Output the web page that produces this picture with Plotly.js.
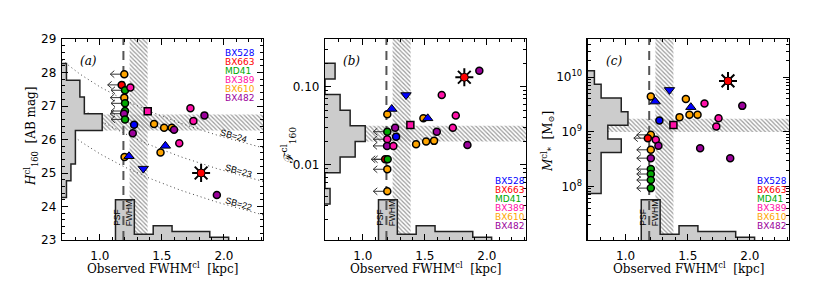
<!DOCTYPE html>
<html><head><meta charset="utf-8">
<script src="https://cdn.plot.ly/plotly-3.0.1.min.js"></script>
<style>html,body{margin:0;padding:0;background:#fff}</style>
</head><body><div id="chart" style="width:830px;height:293px"></div>
<script>
// ================= DATA =================
const galaxies = ['BX528', 'BX663', 'MD41', 'BX389', 'BX610', 'BX482'];

// observed FWHM histogram (bottom of every panel)
const fwhmBinEdges = [1.126, 1.278, 1.430, 1.582, 1.734, 1.886, 2.038];
const fwhmBinCounts = [14, 2, 5, 3, 3, 1];

const psfFWHM = 1.19;              // kpc
const fwhmBand = [1.24, 1.385];    // kpc

// ---- panel (a): H160 magnitude ----
const magBinEdges = [24.27, 24.77, 25.27, 25.77, 26.27, 26.77, 27.27, 27.77, 28.27];
const magBinCounts = [1, 2, 3, 3, 9, 5, 4, 1];
const magBand = [26.27, 26.75];
const sbLevels = ['24', '23', '22'];
const sbValues = [24, 23, 22];
const sbZeroPoint = 3.575;         // H160 of an SB contour at FWHM = 1 kpc, minus SB

const fwhmA = [1.197, 1.176, 1.203, 1.197, 1.203, 1.203, 1.195, 1.203,
  1.246, 1.386, 1.276, 1.265, 1.437, 1.518, 1.580, 1.598, 1.730, 1.754, 1.843,
  1.640, 1.528, 1.489, 1.199, 1.235, 1.350, 1.816, 1.943];
const magA = [27.95, 27.63, 27.47, 27.25, 27.08, 26.85, 26.77, 26.60,
  27.55, 26.84, 26.44, 26.19, 26.46, 26.35, 26.35, 26.29, 26.93, 26.55, 26.72,
  25.89, 25.81, 25.61, 25.48, 25.50, 25.13, 25.00, 24.34];
const galA = ['BX610', 'BX663', 'MD41', 'BX610', 'MD41', 'MD41', 'BX482', 'MD41',
  'BX389', 'BX389', 'BX528', 'BX482', 'BX610', 'BX610', 'BX610', 'BX482', 'BX389', 'BX389', 'BX482',
  'BX389', 'BX528', 'BX610', 'BX610', 'BX528', 'BX528', 'BX663', 'BX482'];
const kindA = ['o', 'o', 'o', 'o', 'o', 'o', 'o', 'o',
  'o', 's', 'o', 'o', 'o', 'o', 'o', 'o', 'o', 'o', 'o',
  'o', 'u', 'o', 'o', 'u', 'd', 'x', 'o'];
const limA = [1, 1, 1, 1, 1, 1, 1, 1,
  0, 0, 0, 0, 0, 0, 0, 0, 0, 0, 0,
  0, 0, 0, 0, 0, 0, 0, 0];

// ---- panel (b): F160 ----
const fluxLogBinEdges = [-2.5, -2.3, -2.1, -1.9, -1.7, -1.5, -1.3, -1.1, -0.9, -0.7];
const fluxBinCounts = [1, 0, 3, 6, 8, 5, 3, 0, 2];
const fluxBand = [0.0199, 0.0316];

const fwhmB = [1.197, 1.197, 1.195, 1.180, 1.200, 1.197, 1.197,
  1.818, 1.939, 1.636, 1.348, 1.233, 1.197, 1.749, 1.488, 1.523, 1.383, 1.725,
  1.596, 1.260, 1.268, 1.429, 1.510, 1.574, 1.843, 1.246];
const fluxB = [0.0266, 0.0213, 0.0175, 0.0118, 0.0118, 0.0088, 0.0046,
  0.132, 0.160, 0.0783, 0.0783, 0.0519, 0.0444, 0.0427, 0.0394, 0.0394, 0.0324, 0.0299,
  0.0266, 0.0299, 0.0230, 0.0184, 0.0199, 0.0203, 0.0180, 0.0175];
const galB = ['MD41', 'BX389', 'BX482', 'BX663', 'MD41', 'BX610', 'BX610',
  'BX663', 'BX482', 'BX389', 'BX528', 'BX528', 'BX610', 'BX389', 'BX610', 'BX528', 'BX389', 'BX389',
  'BX482', 'BX482', 'BX528', 'BX610', 'BX610', 'BX610', 'BX482', 'BX389'];
const kindB = ['o', 'o', 'o', 'o', 'o', 'o', 'o',
  'x', 'o', 'o', 'd', 'u', 'o', 'o', 'o', 'u', 's', 'o',
  'o', 'o', 'o', 'o', 'o', 'o', 'o', 'o'];
const limB = [1, 1, 1, 1, 1, 1, 1,
  0, 0, 0, 0, 0, 0, 0, 0, 0, 0, 0,
  0, 0, 0, 0, 0, 0, 0, 0];

// ---- panel (c): stellar mass ----
const massLogBinEdges = [7.87, 8.12, 8.37, 8.62, 8.87, 9.12, 9.37, 9.62, 9.87, 10.12];
const massBinCounts = [2, 2, 2, 5, 3, 6, 5, 2, 1];
const massBand = [9.9e8, 1.73e9];

const fwhmC = [1.203, 1.179, 1.203, 1.203, 1.203, 1.203, 1.203, 1.203,
  1.824, 1.939, 1.635, 1.353, 1.203, 1.238, 1.485, 1.525, 1.514, 1.579, 1.434,
  1.748, 1.730, 1.272, 1.385, 1.243, 1.264, 1.600, 1.842];
const massC = [8.81e8, 7.67e8, 4.69e8, 3.30e8, 2.08e8, 1.69e8, 1.31e8, 9.33e7,
  8.55e9, 2.99e9, 3.29e9, 5.86e9, 4.42e9, 3.58e9, 4.01e9, 2.83e9, 2.05e9, 2.05e9, 1.86e9,
  1.78e9, 1.25e9, 1.61e9, 1.34e9, 7.14e8, 5.55e8, 5.0e8, 3.3e8];
const galC = ['BX610', 'BX663', 'BX610', 'BX482', 'MD41', 'MD41', 'MD41', 'MD41',
  'BX663', 'BX482', 'BX389', 'BX528', 'BX610', 'BX528', 'BX610', 'BX528', 'BX610', 'BX610', 'BX610',
  'BX389', 'BX389', 'BX528', 'BX389', 'BX389', 'BX482', 'BX482', 'BX482'];
const kindC = ['o', 'o', 'o', 'o', 'o', 'o', 'o', 'o',
  'x', 'o', 'o', 'd', 'o', 'u', 'o', 'u', 'o', 'o', 'o',
  'o', 'o', 'o', 's', 'o', 'o', 'o', 'o'];
const limC = [1, 1, 1, 1, 1, 1, 1, 1,
  0, 0, 0, 0, 0, 0, 0, 0, 0, 0, 0,
  0, 0, 0, 0, 0, 0, 0, 0];

const xTitle = 'Observed FWHM<sup>cl</sup>\u00a0\u00a0[kpc]';
const yTitles = ['<i>H</i><sup>cl</sup><sub>160</sub>\u00a0\u00a0[AB mag]',
  '\u2131<sup>cl</sup><sub>160</sub>',
  '<i>M</i><sup>cl</sup><sub>*</sub>\u00a0\u00a0[M<sub>\u2299</sub>]'];

// ================= STYLE =================
const galColor = {BX528: '#0000FF', BX663: '#FF0000', MD41: '#00A800',
  BX389: '#FF10A8', BX610: '#FFA500', BX482: '#9B009B'};
const xRange = [0.695, 2.315];
const panelPx = 201;
const histFrac = 0.2;
const hatch = {shape: '\\', fgcolor: '#9a9a9a', bgcolor: 'rgba(0,0,0,0)', size: 3, solidity: 0.4};
const tickFont = {family: 'DejaVu Sans', size: 12, color: '#000'};
const titleFont = {family: 'DejaVu Serif', size: 12, color: '#000'};

const traces = [];
const annotations = [];

function buildPanel(p) {
  const xa = p.n === 1 ? 'x' : 'x' + p.n;
  const ya = p.n === 1 ? 'y' : 'y' + p.n;
  const toV = v => p.log ? Math.pow(10, v) : v;
  const y0 = toV(p.yRange[0]), y1 = toV(p.yRange[1]);
  const pxX = (xRange[1] - xRange[0]) / panelPx;
  const pxY = (p.yRange[1] - p.yRange[0]) / panelPx;
  const base = {type: 'scatter', xaxis: xa, yaxis: ya, hoverinfo: 'skip', showlegend: false};

  // hatched bands
  traces.push(Object.assign({}, base, {x: [fwhmBand[0], fwhmBand[1], fwhmBand[1], fwhmBand[0]],
    y: [y0, y0, y1, y1], fill: 'toself', mode: 'lines', line: {width: 0},
    fillcolor: 'rgba(0,0,0,0)', fillpattern: hatch}));
  traces.push(Object.assign({}, base, {x: [xRange[0], xRange[1], xRange[1], xRange[0]],
    y: [p.band[0], p.band[0], p.band[1], p.band[1]], fill: 'toself', mode: 'lines', line: {width: 0},
    fillcolor: 'rgba(0,0,0,0)', fillpattern: hatch}));

  // SB contours (panel a)
  if (p.sb) {
    sbValues.forEach((sb, k) => {
      const xs = [], ys = [];
      for (let i = 0; i <= 60; i++) {
        const x = xRange[0] + (xRange[1] - xRange[0]) * i / 60;
        xs.push(x); ys.push(sb + sbZeroPoint - 5 * Math.log10(x));
      }
      traces.push(Object.assign({}, base, {x: xs, y: ys, mode: 'lines',
        line: {color: '#444', width: 1, dash: '1px,3px'}}));
      const lx = p.sbLabelX[k];
      annotations.push({xref: xa, yref: ya, x: lx, y: sb + sbZeroPoint - 5 * Math.log10(lx) + 0.13,
        text: 'SB=' + sbLevels[k], showarrow: false, textangle: 16,
        font: {family: 'Liberation Sans', size: 9, color: '#000'}});
    });
  }

  // left histogram
  const cmax = Math.max(...p.binCounts);
  const hx = [xRange[0]], hy = [toV(p.binEdges[0])];
  p.binCounts.forEach((c, i) => {
    hx.push(xRange[0] + c / cmax * histFrac * (xRange[1] - xRange[0]));
    hy.push(toV(p.binEdges[i]));
  });
  hx.push(xRange[0]); hy.push(toV(p.binEdges[p.binEdges.length - 1]));
  traces.push(Object.assign({}, base, {x: hx, y: hy, mode: 'lines', fill: 'toself',
    fillcolor: '#CCCCCC', line: {color: '#222', width: 1.5, shape: 'vh'}}));

  // bottom histogram
  const fmax = Math.max(...fwhmBinCounts);
  const bx = [fwhmBinEdges[0]], by = [y0];
  fwhmBinCounts.forEach((c, i) => {
    bx.push(fwhmBinEdges[i]);
    by.push(toV(p.yRange[0] + c / fmax * histFrac * (p.yRange[1] - p.yRange[0])));
  });
  bx.push(fwhmBinEdges[fwhmBinEdges.length - 1]); by.push(y0);
  traces.push(Object.assign({}, base, {x: bx, y: by, mode: 'lines', fill: 'toself',
    fillcolor: '#CCCCCC', line: {color: '#222', width: 1.5, shape: 'hv'}}));

  // PSF line
  traces.push(Object.assign({}, base, {x: [psfFWHM, psfFWHM], y: [y0, y1], mode: 'lines',
    line: {color: '#555', width: 2, dash: '9px,6px'}}));

  // upper-limit arrows (shaft + open head), drawn under the markers
  const ax = [], ay = [];
  p.lim.forEach((l, i) => {
    if (!l) return;
    const yv = p.log ? Math.log10(p.ys[i]) : p.ys[i];
    const tail = p.xs[i] - 3 * pxX, head = p.xs[i] - 14 * pxX;
    ax.push(tail, head, null, head + 4 * pxX, head, head + 4 * pxX, null);
    ay.push(toV(yv), toV(yv), null, toV(yv + 3.5 * pxY), toV(yv), toV(yv - 3.5 * pxY), null);
  });
  if (ax.length) traces.push(Object.assign({}, base, {x: ax, y: ay, mode: 'lines',
    line: {color: '#333', width: 1}}));

  // markers
  const sel = k => p.kind.map((v, i) => v === k ? i : -1).filter(i => i >= 0);
  const add = (k, symbol, size, lw) => {
    const idx = sel(k);
    if (!idx.length) return;
    traces.push(Object.assign({}, base, {x: idx.map(i => p.xs[i]), y: idx.map(i => p.ys[i]),
      mode: 'markers', marker: {symbol: symbol, size: size,
        color: idx.map(i => galColor[p.gal[i]]), line: {color: '#000', width: lw}}}));
  };
  add('o', 'circle', 7, 1.5);
  add('s', 'square', 7, 1.5);
  add('u', 'triangle-up', 9, 1);
  add('d', 'triangle-down', 9, 1);
  const st = sel('x');
  if (st.length) {
    traces.push(Object.assign({}, base, {x: st.map(i => p.xs[i]), y: st.map(i => p.ys[i]),
      mode: 'markers', marker: {symbol: 'asterisk-open', size: 15, color: '#000',
        line: {color: '#000', width: 2}}}));
    add('x', 'circle', 8, 1);
  }

  // PSF FWHM text
  annotations.push({xref: xa, yref: ya + ' domain', x: psfFWHM, y: 0.06, xshift: -6, text: 'PSF',
    showarrow: false, textangle: -90, font: {family: 'Liberation Sans', size: 8.5, color: '#000'}});
  annotations.push({xref: xa, yref: ya + ' domain', x: psfFWHM, y: 0.06, xshift: 6, text: 'FWHM',
    showarrow: false, textangle: -90, font: {family: 'Liberation Sans', size: 8.5, color: '#000'}});

  // legend
  galaxies.forEach((g, k) => {
    annotations.push({xref: xa + ' domain', yref: ya + ' domain', x: p.legX, y: p.legY - k * 0.0448,
      xanchor: 'left', yanchor: 'middle', text: g, showarrow: false,
      font: {family: 'DejaVu Sans', size: 9, color: galColor[g]}});
  });

  // panel label
  annotations.push({xref: xa + ' domain', yref: ya + ' domain', x: 0.08, y: 0.935, text: p.label,
    showarrow: false, font: {family: 'DejaVu Serif', size: 12, color: '#000'}});

  // axis titles
  annotations.push({xref: xa + ' domain', yref: ya + ' domain', x: 0.5, y: -0.138, text: xTitle,
    showarrow: false, xanchor: 'center', yanchor: 'middle', font: titleFont});
  annotations.push({xref: xa + ' domain', yref: ya + ' domain', x: p.yTitleX, y: p.yTitleY,
    text: yTitles[p.n - 1], showarrow: false, textangle: -90, xanchor: 'center', yanchor: 'middle',
    font: {family: 'DejaVu Serif', size: p.n === 2 ? 13 : 12, color: '#000'}});
}

buildPanel({n: 1, xs: fwhmA, ys: magA, gal: galA, kind: kindA, lim: limA, log: false,
  yRange: [23, 29], binEdges: magBinEdges, binCounts: magBinCounts, band: magBand,
  sb: true, sbLabelX: [2.08, 2.12, 2.12], legX: 0.80, legY: 0.932, label: '<i>(a)</i>',
  yTitleX: -0.152, yTitleY: 0.515});
buildPanel({n: 2, xs: fwhmB, ys: fluxB, gal: galB, kind: kindB, lim: limB, log: true,
  yRange: [-2.96, -0.39], binEdges: fluxLogBinEdges, binCounts: fluxBinCounts, band: fluxBand,
  sb: false, legX: 0.834, legY: 0.2935, label: '<i>(b)</i>', yTitleX: -0.185, yTitleY: 0.47});
buildPanel({n: 3, xs: fwhmC, ys: massC, gal: galC, kind: kindC, lim: limC, log: true,
  yRange: [7.02, 10.70], binEdges: massLogBinEdges, binCounts: massBinCounts, band: massBand,
  sb: false, legX: 0.832, legY: 0.2935, label: '<i>(c)</i>', yTitleX: -0.2, yTitleY: 0.49});

// ================= AXES =================
function xAxis(domain, anchor) {
  return {domain: domain, anchor: anchor, range: xRange, tickmode: 'linear', tick0: 0, dtick: 0.5,
    tickformat: '.1f', ticks: 'inside', ticklen: 6, tickwidth: 1, tickcolor: '#000',
    minor: {tickmode: 'linear', tick0: 0, dtick: 0.1, ticks: 'inside', ticklen: 3, tickcolor: '#000'},
    showline: true, linecolor: '#000', linewidth: 1.2, mirror: 'allticks', showgrid: false, zeroline: false,
    tickfont: tickFont, ticklabelstandoff: 4, automargin: false};
}
function logMinor(d0, d1) {
  const v = [];
  for (let d = d0; d <= d1; d++) for (let k = 2; k <= 9; k++) v.push(k * Math.pow(10, d));
  return v;
}
const yCommon = {ticks: 'inside', ticklen: 6, tickwidth: 1, tickcolor: '#000', showline: true,
  linecolor: '#000', linewidth: 1.2, mirror: 'allticks', showgrid: false, zeroline: false,
  tickfont: tickFont, automargin: false, ticklabelstandoff: 2};

const layout = {
  width: 830, height: 293, margin: {l: 62, r: 41, t: 39, b: 53},
  paper_bgcolor: '#fff', plot_bgcolor: '#fff', showlegend: false,
  font: {family: 'DejaVu Sans', color: '#000'},
  xaxis: xAxis([0, 0.2765], 'y'),
  xaxis2: xAxis([0.3618, 0.6382], 'y2'),
  xaxis3: xAxis([0.7231, 1], 'y3'),
  yaxis: Object.assign({}, yCommon, {anchor: 'x', range: [23, 29], tickmode: 'linear', tick0: 0, dtick: 1,
    minor: {tickmode: 'linear', tick0: 0, dtick: 0.2, ticks: 'inside', ticklen: 3, tickcolor: '#000'}}),
  yaxis2: Object.assign({}, yCommon, {anchor: 'x2', type: 'log', range: [-2.96, -0.39],
    tickmode: 'array', tickvals: [0.01, 0.1], ticktext: ['0.01', '0.10'],
    minor: {tickmode: 'array', tickvals: logMinor(-3, -1), ticks: 'inside', ticklen: 3, tickcolor: '#000'}}),
  yaxis3: Object.assign({}, yCommon, {anchor: 'x3', type: 'log', range: [7.02, 10.70],
    tickmode: 'array', tickvals: [1e8, 1e9, 1e10], ticktext: ['10<sup>8</sup>', '10<sup>9</sup>', '10<sup>10</sup>'],
    minor: {tickmode: 'array', tickvals: logMinor(7, 10), ticks: 'inside', ticklen: 3, tickcolor: '#000'}}),
  annotations: annotations
};

Plotly.newPlot('chart', traces, layout, {displayModeBar: false, staticPlot: true});
</script>
</body></html>
